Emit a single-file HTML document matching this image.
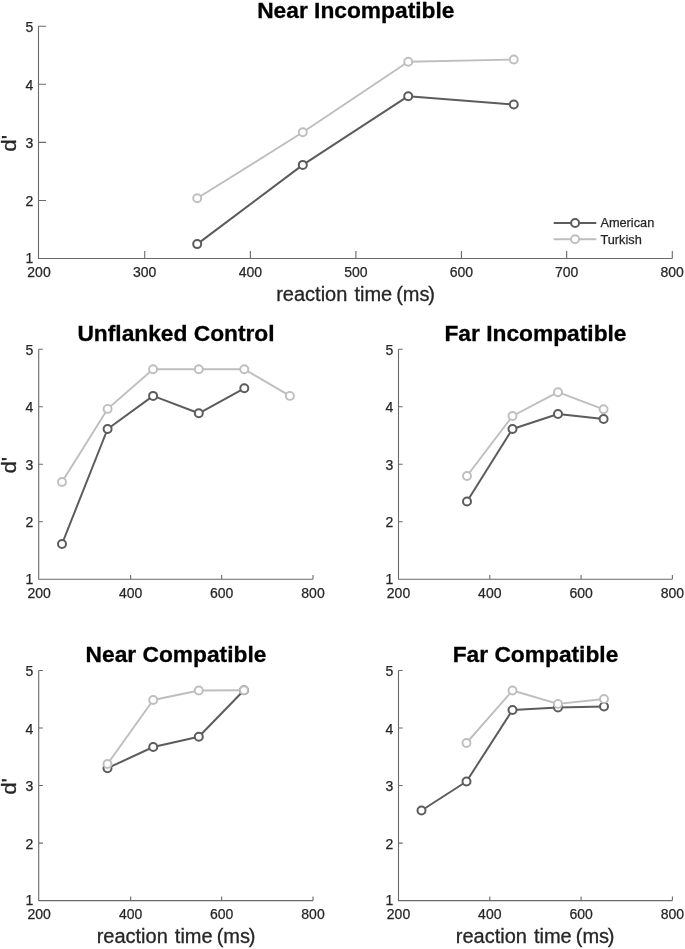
<!DOCTYPE html>
<html lang="en"><head><meta charset="utf-8"><title>d' by reaction time</title>
<style>
html,body{margin:0;padding:0;background:#fff;}
body{width:685px;height:949px;overflow:hidden;font-family:"Liberation Sans", sans-serif;}
svg{display:block;}
text{font-family:"Liberation Sans", sans-serif;}
.ax{fill:none;stroke:#6a6a6a;stroke-width:1.1;}
.tk{font-size:14px;fill:#262626;stroke:#262626;stroke-width:.25;}
.xt{text-anchor:middle;} .yt{text-anchor:end;}
.ttl{font-size:22.75px;font-weight:bold;fill:#000;stroke:#000;stroke-width:.3;text-anchor:middle;}
.lab{font-size:20px;fill:#262626;stroke:#262626;stroke-width:.3;}
.leg{font-size:12.75px;fill:#262626;stroke:#262626;stroke-width:.25;}
.ln{fill:none;stroke-linejoin:round;}
.mk{fill:#fff;}
.am{stroke:#5c5c5c;stroke-width:2;}
.tr{stroke:#bebebe;stroke-width:1.9;}
</style></head><body>
<svg role="img" aria-label="d-prime by reaction time for American and Turkish participants across five flanker conditions" width="685" height="949" viewBox="0 0 685 949" font-family='"Liberation Sans", sans-serif'>
<rect width="685" height="949" fill="#fff"/>
<g aria-label="Near Incompatible">
<path d="M38.5 26.2V258.5H672.3M38.50 258.5v-7.6M144.73 258.5v-7.6M250.37 258.5v-7.6M355.90 258.5v-7.6M461.43 258.5v-7.6M566.67 258.5v-7.6M672.30 258.5v-7.6M38.5 258.50h7.6M38.5 200.43h7.6M38.5 142.35h7.6M38.5 84.27h7.6M38.5 26.20h7.6" class="ax"/>
<text x="39.00" y="277.20" class="tk xt">200</text>
<text x="144.73" y="277.20" class="tk xt">300</text>
<text x="250.37" y="277.20" class="tk xt">400</text>
<text x="355.90" y="277.20" class="tk xt">500</text>
<text x="461.43" y="277.20" class="tk xt">600</text>
<text x="566.67" y="277.20" class="tk xt">700</text>
<text x="672.10" y="277.20" class="tk xt">800</text>
<text x="33.20" y="263.30" class="tk yt">1</text>
<text x="33.20" y="206.03" class="tk yt">2</text>
<text x="33.20" y="147.95" class="tk yt">3</text>
<text x="33.20" y="89.87" class="tk yt">4</text>
<text x="33.20" y="31.80" class="tk yt">5</text>
<text x="355.8" y="17.6" class="ttl">Near Incompatible</text>
<text transform="translate(16.4 151.65) rotate(-90) scale(1.12 1)" class="lab">d'</text>
<text y="300.9" class="lab"><tspan x="276.20">reaction</tspan> <tspan x="354.40">time</tspan> <tspan x="396.20">(ms<tspan dx="-1.3">)</tspan></tspan></text>
<polyline points="197.2,244.1 302.8,164.9 408.2,96.2 513.8,104.5" class="ln am"/>
<circle cx="197.2" cy="244.1" r="4" class="mk am"/>
<circle cx="302.8" cy="164.9" r="4" class="mk am"/>
<circle cx="408.2" cy="96.2" r="4" class="mk am"/>
<circle cx="513.8" cy="104.5" r="4" class="mk am"/>
<polyline points="197.2,198.3 302.8,132.3 408.2,61.7 513.8,59.5" class="ln tr"/>
<circle cx="197.2" cy="198.3" r="4" class="mk tr"/>
<circle cx="302.8" cy="132.3" r="4" class="mk tr"/>
<circle cx="408.2" cy="61.7" r="4" class="mk tr"/>
<circle cx="513.8" cy="59.5" r="4" class="mk tr"/>
</g>
<g aria-label="Unflanked Control">
<path d="M38.7 349.3V579.3H313M38.70 579.3v-4.2M130.63 579.3v-4.2M221.67 579.3v-4.2M313.00 579.3v-4.2M38.7 579.30h4.2M38.7 521.80h4.2M38.7 464.30h4.2M38.7 406.80h4.2M38.7 349.30h4.2" class="ax"/>
<text x="39.10" y="598.00" class="tk xt">200</text>
<text x="130.63" y="598.00" class="tk xt">400</text>
<text x="221.67" y="598.00" class="tk xt">600</text>
<text x="313.00" y="598.00" class="tk xt">800</text>
<text x="33.40" y="584.10" class="tk yt">1</text>
<text x="33.40" y="527.40" class="tk yt">2</text>
<text x="33.40" y="469.90" class="tk yt">3</text>
<text x="33.40" y="412.40" class="tk yt">4</text>
<text x="33.40" y="354.90" class="tk yt">5</text>
<text x="176" y="340.7" class="ttl">Unflanked Control</text>
<text transform="translate(16.4 473.60) rotate(-90) scale(1.12 1)" class="lab">d'</text>
<polyline points="62,544 107.6,429 153.1,395.9 198.8,413.3 244.3,388.3" class="ln am"/>
<circle cx="62" cy="544" r="4" class="mk am"/>
<circle cx="107.6" cy="429" r="4" class="mk am"/>
<circle cx="153.1" cy="395.9" r="4" class="mk am"/>
<circle cx="198.8" cy="413.3" r="4" class="mk am"/>
<circle cx="244.3" cy="388.3" r="4" class="mk am"/>
<polyline points="62,482 107.6,408.9 153.1,369.3 198.8,369.3 244.3,369.3 289.9,395.9" class="ln tr"/>
<circle cx="62" cy="482" r="4" class="mk tr"/>
<circle cx="107.6" cy="408.9" r="4" class="mk tr"/>
<circle cx="153.1" cy="369.3" r="4" class="mk tr"/>
<circle cx="198.8" cy="369.3" r="4" class="mk tr"/>
<circle cx="244.3" cy="369.3" r="4" class="mk tr"/>
<circle cx="289.9" cy="395.9" r="4" class="mk tr"/>
</g>
<g aria-label="Far Incompatible">
<path d="M398.5 349.3V579.3H672.4M398.50 579.3v-4.2M489.80 579.3v-4.2M581.10 579.3v-4.2M672.40 579.3v-4.2M398.5 579.30h4.2M398.5 521.80h4.2M398.5 464.30h4.2M398.5 406.80h4.2M398.5 349.30h4.2" class="ax"/>
<text x="398.50" y="598.00" class="tk xt">200</text>
<text x="489.80" y="598.00" class="tk xt">400</text>
<text x="581.10" y="598.00" class="tk xt">600</text>
<text x="672.40" y="598.00" class="tk xt">800</text>
<text x="393.20" y="584.10" class="tk yt">1</text>
<text x="393.20" y="527.40" class="tk yt">2</text>
<text x="393.20" y="469.90" class="tk yt">3</text>
<text x="393.20" y="412.40" class="tk yt">4</text>
<text x="393.20" y="354.90" class="tk yt">5</text>
<text x="535.5" y="340.7" class="ttl">Far Incompatible</text>
<polyline points="467,501.5 512.5,429 558,414 603.6,419" class="ln am"/>
<circle cx="467" cy="501.5" r="4" class="mk am"/>
<circle cx="512.5" cy="429" r="4" class="mk am"/>
<circle cx="558" cy="414" r="4" class="mk am"/>
<circle cx="603.6" cy="419" r="4" class="mk am"/>
<polyline points="467,476 512.5,416 558,392.2 603.6,409.3" class="ln tr"/>
<circle cx="467" cy="476" r="4" class="mk tr"/>
<circle cx="512.5" cy="416" r="4" class="mk tr"/>
<circle cx="558" cy="392.2" r="4" class="mk tr"/>
<circle cx="603.6" cy="409.3" r="4" class="mk tr"/>
</g>
<g aria-label="Near Compatible">
<path d="M38.7 670.5V900.6H313M38.70 900.6v-4.2M130.63 900.6v-4.2M221.67 900.6v-4.2M313.00 900.6v-4.2M38.7 900.60h4.2M38.7 843.08h4.2M38.7 785.55h4.2M38.7 728.02h4.2M38.7 670.50h4.2" class="ax"/>
<text x="39.10" y="919.30" class="tk xt">200</text>
<text x="130.63" y="919.30" class="tk xt">400</text>
<text x="221.67" y="919.30" class="tk xt">600</text>
<text x="313.00" y="919.30" class="tk xt">800</text>
<text x="33.40" y="905.40" class="tk yt">1</text>
<text x="33.40" y="848.68" class="tk yt">2</text>
<text x="33.40" y="791.15" class="tk yt">3</text>
<text x="33.40" y="733.62" class="tk yt">4</text>
<text x="33.40" y="676.10" class="tk yt">5</text>
<text x="176" y="662" class="ttl">Near Compatible</text>
<text transform="translate(16.4 794.85) rotate(-90) scale(1.12 1)" class="lab">d'</text>
<text y="943.1" class="lab"><tspan x="96.65">reaction</tspan> <tspan x="174.85">time</tspan> <tspan x="216.65">(ms<tspan dx="-1.3">)</tspan></tspan></text>
<polyline points="107.5,768.2 153.2,747 198.8,736.8 244,690.3" class="ln am"/>
<circle cx="107.5" cy="768.2" r="4" class="mk am"/>
<circle cx="153.2" cy="747" r="4" class="mk am"/>
<circle cx="198.8" cy="736.8" r="4" class="mk am"/>
<circle cx="244" cy="690.3" r="4" class="mk am"/>
<polyline points="107.5,764 153.2,700 198.8,690.5 244,690.3" class="ln tr"/>
<circle cx="107.5" cy="764" r="4" class="mk tr"/>
<circle cx="153.2" cy="700" r="4" class="mk tr"/>
<circle cx="198.8" cy="690.5" r="4" class="mk tr"/>
<circle cx="244" cy="690.3" r="4" class="mk tr"/>
</g>
<g aria-label="Far Compatible">
<path d="M398.5 670.5V900.6H672.4M398.50 900.6v-4.2M489.80 900.6v-4.2M581.10 900.6v-4.2M672.40 900.6v-4.2M398.5 900.60h4.2M398.5 843.08h4.2M398.5 785.55h4.2M398.5 728.02h4.2M398.5 670.50h4.2" class="ax"/>
<text x="398.50" y="919.30" class="tk xt">200</text>
<text x="489.80" y="919.30" class="tk xt">400</text>
<text x="581.10" y="919.30" class="tk xt">600</text>
<text x="672.40" y="919.30" class="tk xt">800</text>
<text x="393.20" y="905.40" class="tk yt">1</text>
<text x="393.20" y="848.68" class="tk yt">2</text>
<text x="393.20" y="791.15" class="tk yt">3</text>
<text x="393.20" y="733.62" class="tk yt">4</text>
<text x="393.20" y="676.10" class="tk yt">5</text>
<text x="535.5" y="662" class="ttl">Far Compatible</text>
<text y="943.1" class="lab"><tspan x="455.75">reaction</tspan> <tspan x="533.95">time</tspan> <tspan x="575.75">(ms<tspan dx="-1.3">)</tspan></tspan></text>
<polyline points="421.5,810.5 466.5,781.5 512.5,710 558,707.5 604,706.5" class="ln am"/>
<circle cx="421.5" cy="810.5" r="4" class="mk am"/>
<circle cx="466.5" cy="781.5" r="4" class="mk am"/>
<circle cx="512.5" cy="710" r="4" class="mk am"/>
<circle cx="558" cy="707.5" r="4" class="mk am"/>
<circle cx="604" cy="706.5" r="4" class="mk am"/>
<polyline points="466.5,743 512.5,690.5 558,703.9 604,699" class="ln tr"/>
<circle cx="466.5" cy="743" r="4" class="mk tr"/>
<circle cx="512.5" cy="690.5" r="4" class="mk tr"/>
<circle cx="558" cy="703.9" r="4" class="mk tr"/>
<circle cx="604" cy="699" r="4" class="mk tr"/>
</g>
<g>
<path d="M553.7 223H596.3" class="ln am"/>
<circle cx="575.1" cy="223" r="4" class="mk am"/>
<text x="600.4" y="227.2" class="leg">American</text>
<path d="M553.7 239.3H596.3" class="ln tr"/>
<circle cx="575.1" cy="239.3" r="4" class="mk tr"/>
<text x="600.4" y="243.5" class="leg">Turkish</text>
</g>
</svg>
</body></html>
